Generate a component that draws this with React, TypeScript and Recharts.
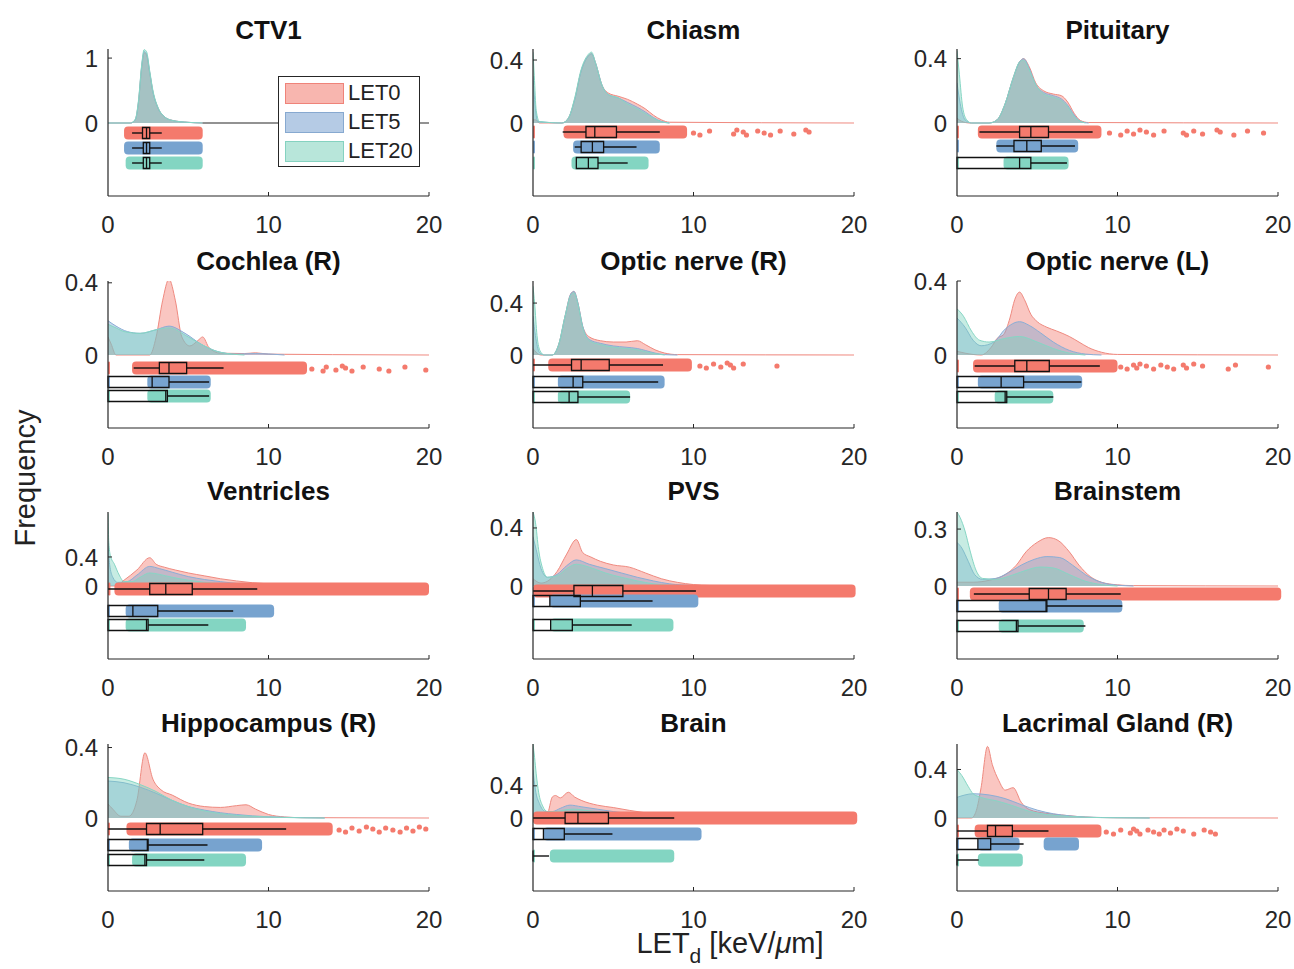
import React from "react";
import { ComposedChart, Area, XAxis, YAxis, ReferenceArea, ReferenceLine, ReferenceDot } from "recharts";

type Pt = [number, number];
type Box = [number, number, number, number, number]; // whisker lo, q1, median, q3, whisker hi

const TITLES = [
  "CTV1", "Chiasm", "Pituitary",
  "Cochlea (R)", "Optic nerve (R)", "Optic nerve (L)",
  "Ventricles", "PVS", "Brainstem",
  "Hippocampus (R)", "Brain", "Lacrimal Gland (R)",
];
const TOP_TICK = [1, 0.4, 0.4, 0.4, 0.4, 0.4, 0.4, 0.4, 0.3, 0.4, 0.4, 0.4];
const Y_MAX = [1.14, 0.47, 0.46, 0.41, 0.57, 0.4, 1.02, 0.51, 0.39, 0.42, 0.92, 0.61];
const X_TICKS = [0, 10, 20];

// density curves [LET0, LET5, LET20] as [LETd, frequency]
const D_CTV1: Pt[][] = [
  [[0, 0], [1.4, 0], [1.7, 0.05], [1.9, 0.32], [2.1, 0.86], [2.25, 1.08], [2.4, 1.05], [2.6, 0.77], [2.8, 0.48], [3.1, 0.24], [3.5, 0.1], [4, 0.04], [5, 0.01], [5.9, 0]],
  [[0, 0], [1.4, 0], [1.7, 0.05], [1.9, 0.33], [2.1, 0.88], [2.25, 1.1], [2.4, 1.07], [2.6, 0.78], [2.8, 0.48], [3.1, 0.24], [3.5, 0.1], [4, 0.04], [5, 0.01], [5.9, 0]],
  [[0, 0], [1.4, 0], [1.7, 0.06], [1.9, 0.35], [2.1, 0.9], [2.25, 1.13], [2.4, 1.1], [2.6, 0.8], [2.8, 0.5], [3.1, 0.25], [3.5, 0.1], [4, 0.04], [5, 0.01], [5.9, 0]],
];
const D_CHIASM: Pt[][] = [
  [[0, 0.02], [0.15, 0.02], [0.4, 0], [1.8, 0], [2.2, 0.03], [2.6, 0.15], [3, 0.33], [3.4, 0.42], [3.65, 0.44], [3.9, 0.38], [4.3, 0.24], [4.7, 0.19], [5.3, 0.17], [5.9, 0.15], [6.5, 0.12], [7, 0.09], [7.5, 0.05], [8, 0.02], [8.5, 0.005], [20, 0]],
  [[0, 0.3], [0.1, 0.15], [0.3, 0.01], [1.8, 0], [2.2, 0.03], [2.6, 0.15], [3, 0.33], [3.4, 0.42], [3.65, 0.44], [3.9, 0.38], [4.3, 0.24], [4.7, 0.18], [5.3, 0.16], [5.9, 0.13], [6.5, 0.1], [7, 0.07], [7.5, 0.035], [8, 0.01], [8.5, 0]],
  [[0, 0.45], [0.08, 0.3], [0.2, 0.08], [0.4, 0.01], [1.8, 0], [2.2, 0.03], [2.6, 0.16], [3, 0.34], [3.4, 0.43], [3.65, 0.45], [3.9, 0.38], [4.3, 0.24], [4.7, 0.18], [5.3, 0.16], [5.9, 0.12], [6.5, 0.09], [7, 0.06], [7.5, 0.03], [8, 0.008], [8.5, 0]],
];
const D_PITUITARY: Pt[][] = [
  [[0, 0.03], [0.3, 0.01], [0.8, 0], [2, 0], [2.5, 0.02], [3, 0.12], [3.5, 0.28], [3.9, 0.38], [4.15, 0.4], [4.5, 0.35], [4.9, 0.25], [5.4, 0.2], [6, 0.18], [6.5, 0.17], [6.9, 0.13], [7.3, 0.06], [7.7, 0.015], [8.2, 0.003], [20, 0]],
  [[0, 0.25], [0.2, 0.12], [0.5, 0.02], [0.9, 0], [2, 0], [2.5, 0.02], [3, 0.12], [3.5, 0.28], [3.9, 0.38], [4.15, 0.4], [4.5, 0.34], [4.9, 0.24], [5.4, 0.19], [6, 0.17], [6.5, 0.15], [6.9, 0.11], [7.3, 0.05], [7.7, 0.01], [8.2, 0]],
  [[0, 0.45], [0.15, 0.3], [0.35, 0.1], [0.6, 0.02], [0.9, 0], [2, 0], [2.5, 0.02], [3, 0.12], [3.5, 0.28], [3.9, 0.38], [4.15, 0.39], [4.5, 0.33], [4.9, 0.24], [5.4, 0.18], [6, 0.16], [6.5, 0.14], [6.9, 0.1], [7.3, 0.04], [7.7, 0.01], [8, 0]],
];
const D_COCHLEA: Pt[][] = [
  [[0, 0.1], [0.2, 0.06], [0.5, 0], [2.6, 0], [3, 0.1], [3.4, 0.3], [3.8, 0.42], [4.2, 0.3], [4.6, 0.1], [5.1, 0.05], [5.6, 0.08], [5.9, 0.1], [6.3, 0.04], [7, 0.01], [8.5, 0.008], [9.2, 0.012], [10, 0.005], [11, 0.004], [14, 0.002], [20, 0]],
  [[0, 0.19], [0.5, 0.16], [1.2, 0.13], [2, 0.12], [3, 0.14], [3.8, 0.16], [4.8, 0.12], [5.8, 0.06], [6.8, 0.02], [8, 0.005], [9.2, 0.008], [11, 0]],
  [[0, 0.17], [0.5, 0.15], [1, 0.13], [2, 0.12], [3, 0.14], [3.8, 0.15], [5, 0.1], [6, 0.05], [7, 0.015], [8.5, 0]],
];
const D_OPTIC_R: Pt[][] = [
  [[0, 0.05], [0.2, 0.02], [0.5, 0], [1.2, 0], [1.6, 0.08], [2, 0.3], [2.35, 0.47], [2.55, 0.49], [2.8, 0.4], [3.1, 0.22], [3.5, 0.14], [4.2, 0.11], [5, 0.1], [5.8, 0.1], [6.5, 0.11], [7, 0.08], [7.6, 0.04], [8.2, 0.015], [9, 0.003], [20, 0]],
  [[0, 0.3], [0.15, 0.15], [0.4, 0.02], [0.7, 0], [1.2, 0], [1.6, 0.08], [2, 0.3], [2.35, 0.47], [2.55, 0.49], [2.8, 0.4], [3.1, 0.22], [3.5, 0.12], [4.2, 0.09], [5, 0.07], [5.8, 0.06], [6.5, 0.05], [7, 0.035], [7.6, 0.015], [8.2, 0.003], [9, 0]],
  [[0, 0.53], [0.1, 0.4], [0.25, 0.15], [0.45, 0.03], [0.7, 0], [1.2, 0], [1.6, 0.08], [2, 0.3], [2.35, 0.46], [2.55, 0.48], [2.8, 0.39], [3.1, 0.21], [3.5, 0.11], [4.2, 0.08], [5, 0.06], [5.8, 0.05], [6.5, 0.04], [7, 0.025], [7.6, 0.01], [8.2, 0]],
];
const D_OPTIC_L: Pt[][] = [
  [[0, 0.02], [0.5, 0.01], [1.5, 0], [2.2, 0.05], [2.5, 0.09], [2.9, 0.11], [3.3, 0.2], [3.6, 0.3], [3.9, 0.34], [4.2, 0.3], [4.6, 0.22], [5, 0.18], [5.6, 0.15], [6.2, 0.13], [7, 0.1], [7.6, 0.07], [8.2, 0.04], [9, 0.015], [10, 0.003], [20, 0]],
  [[0, 0.2], [0.5, 0.15], [1, 0.08], [1.5, 0.05], [2.3, 0.07], [3, 0.14], [3.9, 0.18], [4.5, 0.16], [5.2, 0.12], [6, 0.07], [7, 0.025], [8, 0.005], [9, 0]],
  [[0, 0.25], [0.4, 0.21], [0.9, 0.13], [1.4, 0.08], [2, 0.07], [3, 0.09], [3.9, 0.1], [5, 0.07], [6, 0.035], [7, 0.01], [8, 0]],
];
const D_VENTRICLES: Pt[][] = [
  [[0, 0], [0.5, 0], [1, 0.08], [1.8, 0.22], [2.6, 0.39], [3, 0.3], [3.5, 0.26], [4.2, 0.22], [5, 0.18], [6, 0.14], [7, 0.1], [8, 0.07], [9, 0.045], [10, 0.03], [11, 0.015], [13, 0.005], [20, 0]],
  [[0, 0.6], [0.1, 0.3], [0.3, 0.12], [0.6, 0.05], [1.2, 0.06], [1.8, 0.15], [2.6, 0.27], [3.2, 0.24], [4, 0.19], [5, 0.13], [6, 0.09], [7, 0.06], [8, 0.035], [9, 0.02], [10, 0.01], [11, 0]],
  [[0, 1.0], [0.05, 0.6], [0.15, 0.42], [0.4, 0.3], [0.7, 0.15], [1, 0.06], [1.5, 0.06], [2, 0.12], [2.6, 0.18], [3.2, 0.16], [4, 0.12], [5, 0.08], [6, 0.05], [7, 0.03], [8, 0.015], [9, 0.005], [10, 0]],
];
const D_PVS: Pt[][] = [
  [[0, 0.05], [0.5, 0.02], [1, 0.04], [1.5, 0.1], [2.1, 0.22], [2.7, 0.32], [3.1, 0.23], [3.6, 0.2], [4.2, 0.17], [5, 0.145], [6, 0.13], [7, 0.09], [8, 0.05], [9, 0.025], [10, 0.01], [11, 0.004], [20, 0]],
  [[0, 0.34], [0.2, 0.25], [0.5, 0.12], [0.9, 0.06], [1.5, 0.08], [2.1, 0.14], [2.7, 0.18], [3.5, 0.15], [4.5, 0.12], [5.5, 0.09], [6.5, 0.06], [7.5, 0.035], [8.5, 0.015], [10, 0.003], [11, 0]],
  [[0, 0.51], [0.15, 0.44], [0.35, 0.25], [0.6, 0.12], [0.9, 0.06], [1.5, 0.07], [2.1, 0.12], [2.7, 0.15], [3.5, 0.13], [4.5, 0.09], [5.5, 0.06], [6.5, 0.035], [7.5, 0.015], [8.5, 0.005], [9.5, 0]],
];
const D_BRAINSTEM: Pt[][] = [
  [[0, 0.02], [1, 0.02], [2, 0.03], [3, 0.06], [3.7, 0.11], [4.3, 0.18], [5, 0.23], [5.7, 0.255], [6.3, 0.24], [7, 0.18], [7.6, 0.11], [8.3, 0.05], [9, 0.02], [10, 0.006], [11, 0.002], [20, 0]],
  [[0, 0.23], [0.3, 0.2], [0.7, 0.13], [1.1, 0.06], [1.6, 0.035], [2.4, 0.04], [3.2, 0.07], [4, 0.11], [4.8, 0.14], [5.6, 0.155], [6.4, 0.15], [7.2, 0.11], [8, 0.06], [8.8, 0.025], [9.6, 0.008], [11, 0]],
  [[0, 0.39], [0.2, 0.36], [0.5, 0.29], [0.8, 0.19], [1.2, 0.08], [1.6, 0.04], [2.4, 0.035], [3.2, 0.05], [4.2, 0.08], [5.2, 0.1], [6, 0.095], [7, 0.06], [8, 0.025], [9, 0.007], [10, 0]],
];
const D_HIPPOCAMPUS: Pt[][] = [
  [[0, 0.08], [0.3, 0.05], [0.8, 0.01], [1.3, 0.01], [1.8, 0.1], [2.3, 0.37], [2.8, 0.22], [3.3, 0.16], [4, 0.13], [5, 0.085], [6, 0.065], [7, 0.06], [8, 0.07], [8.6, 0.075], [9.2, 0.05], [10, 0.02], [11, 0.006], [12, 0.002], [20, 0]],
  [[0, 0.21], [1, 0.2], [2, 0.175], [3, 0.14], [4, 0.1], [5, 0.065], [6, 0.045], [7, 0.03], [8, 0.02], [9, 0.012], [11, 0.004], [13.5, 0]],
  [[0, 0.23], [1, 0.22], [2, 0.19], [3, 0.15], [4, 0.1], [5, 0.065], [6, 0.04], [7, 0.025], [8, 0.015], [9, 0.01], [11, 0.003], [13.5, 0]],
];
const D_BRAIN: Pt[][] = [
  [[0, 0.05], [0.5, 0.04], [0.9, 0.06], [1.2, 0.26], [1.4, 0.28], [1.7, 0.25], [2.2, 0.32], [2.6, 0.26], [3, 0.22], [4, 0.16], [5, 0.13], [6, 0.095], [7, 0.065], [8, 0.035], [9, 0.02], [10, 0.01], [12, 0.003], [20, 0]],
  [[0, 0.6], [0.15, 0.35], [0.4, 0.18], [0.8, 0.08], [1.2, 0.08], [1.7, 0.12], [2.3, 0.16], [3, 0.14], [4, 0.11], [5, 0.08], [6, 0.055], [7, 0.035], [8, 0.02], [9, 0.01], [11, 0]],
  [[0, 0.92], [0.1, 0.75], [0.2, 0.55], [0.35, 0.32], [0.6, 0.15], [0.9, 0.08], [1.4, 0.08], [2, 0.1], [2.5, 0.11], [3.5, 0.09], [4.5, 0.065], [5.5, 0.04], [7, 0.02], [8.5, 0.006], [10, 0]],
];
const D_LACRIMAL: Pt[][] = [
  [[0, 0], [0.9, 0], [1.2, 0.06], [1.5, 0.25], [1.9, 0.59], [2.2, 0.44], [2.6, 0.31], [3, 0.23], [3.5, 0.25], [4, 0.13], [4.5, 0.07], [5.5, 0.04], [6.5, 0.025], [7.5, 0.012], [8.5, 0.005], [10, 0.002], [20, 0]],
  [[0, 0.17], [0.5, 0.19], [1, 0.2], [2, 0.19], [3, 0.16], [4, 0.11], [5, 0.065], [6, 0.035], [7, 0.018], [8, 0.008], [9.5, 0.003], [12, 0]],
  [[0, 0.4], [0.3, 0.35], [0.7, 0.26], [1, 0.2], [1.5, 0.17], [2.5, 0.14], [3.5, 0.1], [4.5, 0.055], [5.5, 0.03], [7, 0.013], [9, 0.003], [12, 0]],
];
const DENSITY = [D_CTV1, D_CHIASM, D_PITUITARY, D_COCHLEA, D_OPTIC_R, D_OPTIC_L, D_VENTRICLES, D_PVS, D_BRAINSTEM, D_HIPPOCAMPUS, D_BRAIN, D_LACRIMAL];

// extent of the raw points (rain), as [from, to] runs
const RAIN_LET0: Pt[][] = [
  [[1.0, 5.9]], [[0, 0.12], [1.9, 9.6]], [[0, 0.12], [1.3, 9.0]],
  [[0, 0.12], [1.5, 12.4]], [[0, 0.12], [0.95, 9.9]], [[0, 0.12], [1.0, 10.0]],
  [[0, 0.15], [0.4, 20]], [[0, 20.1]], [[0, 0.12], [0.8, 20.2]],
  [[0, 0.12], [1.15, 14.0]], [[0, 20.2]], [[0, 0.12], [1.1, 9.0]],
];
const RAIN_LET5: Pt[][] = [
  [[1.0, 5.9]], [[0, 0.12], [2.5, 7.9]], [[0, 0.12], [2.45, 7.55]],
  [[0, 0.12], [2.45, 6.4]], [[0, 0.12], [1.55, 8.2]], [[0, 0.12], [1.3, 7.8]],
  [[0, 0.12], [1.1, 10.35]], [[0, 0.12], [1.05, 10.3]], [[0, 0.12], [2.6, 10.3]],
  [[0, 0.12], [1.3, 9.6]], [[0, 0.12], [0.65, 10.5]], [[0, 0.12], [1.3, 3.9], [5.4, 7.6]],
];
const RAIN_LET20: Pt[][] = [
  [[1.1, 5.9]], [[0, 0.12], [2.4, 7.2]], [[0, 0.12], [2.9, 6.95]],
  [[0, 0.12], [2.45, 6.4]], [[0, 0.12], [1.55, 6.05]], [[0, 0.12], [2.35, 6.0]],
  [[0, 0.12], [1.1, 8.6]], [[0, 0.12], [1.1, 8.75]], [[0, 0.12], [2.6, 7.9]],
  [[0, 0.12], [1.5, 8.6]], [[0, 0.12], [1.05, 8.8]], [[0, 0.12], [1.3, 4.1]],
];

// isolated LET0 points beyond the dense rain
const OUT_LET0: number[][] = [
  [],
  [10.0, 10.4, 11.0, 12.5, 12.7, 13.1, 13.3, 14.0, 14.4, 14.8, 15.4, 16.25, 17.0, 17.2],
  [9.5, 10.2, 10.6, 11.0, 11.4, 11.8, 12.25, 12.9, 14.1, 14.3, 14.75, 15.3, 16.2, 16.4, 17.25, 18.1, 19.1],
  [12.7, 13.4, 13.6, 14.2, 14.6, 14.8, 15.2, 15.9, 16.9, 17.5, 18.5, 19.8],
  [10.4, 10.8, 11.25, 11.7, 12.1, 12.3, 12.5, 13.1, 15.2],
  [10.2, 10.6, 11.0, 11.2, 11.4, 11.8, 12.25, 12.7, 13.1, 13.5, 14.1, 14.3, 14.75, 15.3, 16.9, 17.35, 19.4],
  [], [], [],
  [14.4, 14.8, 15.2, 15.65, 16.1, 16.5, 16.9, 17.3, 17.75, 18.2, 18.6, 19.0, 19.4, 19.8],
  [],
  [9.3, 9.75, 10.2, 10.8, 11.0, 11.2, 11.4, 11.9, 12.25, 12.6, 12.9, 13.3, 13.7, 14.1, 14.75, 15.4, 15.8, 16.1],
];

const BOX_LET0: Box[] = [
  [1.5, 2.15, 2.4, 2.6, 3.35], [1.85, 3.3, 3.85, 5.2, 7.9], [1.4, 3.9, 4.6, 5.7, 8.45],
  [1.6, 3.2, 3.8, 4.9, 7.2], [0, 2.4, 3.0, 4.75, 8.1], [1.1, 3.6, 4.35, 5.75, 8.9],
  [0, 2.6, 3.6, 5.25, 9.3], [0, 2.55, 3.7, 5.6, 10.15], [1.05, 4.5, 5.7, 6.8, 10.2],
  [0, 2.4, 3.25, 5.9, 11.1], [0, 2.0, 2.8, 4.7, 8.8], [0, 1.9, 2.4, 3.45, 5.7],
];
const BOX_LET5: Box[] = [
  [1.5, 2.2, 2.4, 2.6, 3.35], [2.6, 3.0, 3.7, 4.4, 6.45], [2.45, 3.55, 4.35, 5.25, 7.35],
  [0, 0, 2.75, 3.8, 6.3], [0, 0, 2.5, 3.1, 7.8], [0, 0, 2.75, 4.15, 7.75],
  [0, 0, 1.55, 3.1, 7.8], [0, 0, 1.05, 2.95, 7.45], [0, 0, 5.55, 5.6, 10.3],
  [0, 0, 2.45, 2.5, 6.2], [0, 0, 0.65, 1.95, 4.95], [0, 0, 1.3, 2.1, 4.15],
];
const BOX_LET20: Box[] = [
  [1.5, 2.2, 2.4, 2.6, 3.35], [2.7, 2.7, 3.45, 4.05, 5.9], [0, 0, 3.9, 4.6, 6.85],
  [0, 0, 3.6, 3.7, 6.3], [0, 0, 2.25, 2.8, 6.05], [0, 0, 3.0, 3.1, 6.0],
  [0, 0, 2.4, 2.5, 6.25], [0, 0, 1.1, 2.45, 6.15], [0, 0, 3.7, 3.8, 8.0],
  [0, 0, 2.3, 2.4, 6.0], [0, 0, 0, 0, 1.0], [0, 0, 0, 0, 1.35],
];

// layout: pixel offset of each rain row below the zero line
const RAIN_ROW_PX = [
  [10, 25, 40], [9, 24, 40], [9, 23, 40],
  [13, 27, 41], [10, 27, 42], [11, 27, 42],
  [3, 25, 39], [5, 15, 39], [8, 20, 40],
  [11, 27, 42], [0, 16, 38], [13, 26, 42],
];

const SERIES = [
  { key: "l0", name: "LET0", rain: "#f47a6d", fill: "#f2786b", stroke: "#ef8a80", swatch: "#f8b6af", swBorder: "#ef8379" },
  { key: "l5", name: "LET5", rain: "#77a3cf", fill: "#7aa3d2", stroke: "#8aaed6", swatch: "#b5cbe5", swBorder: "#87a9d0" },
  { key: "l20", name: "LET20", rain: "#83d5c2", fill: "#79d2bd", stroke: "#86d6c4", swatch: "#b8e6da", swBorder: "#85d2c0" },
];

const FONT = "'Liberation Sans', Arial, Helvetica, sans-serif";
const AXIS = "#262626";
const COL_LEFT = [108, 533, 957];
const ROW_TOP = [49, 281, 512, 744];
const TITLE_Y = [30, 261, 491, 723];
const PLOT_W = 321;
const PLOT_H = 147;
const ZERO_PX = 74;
const Y_AXIS_W = 60;
const TOP_PAD = 16;
const RIGHT_PAD = 20;
const X_AXIS_H = 45;
const BAND_PX = 13;
const BOX_PX = 11;
const JITTER_PX = [1, 3, -1, 2, -2, 0, 3, -1];
const TICK_FONT = 24;

function buildRows(dens: Pt[][]) {
  const map = new Map<number, any>();
  dens.forEach((pts, k) => {
    pts.forEach(([x, y]) => {
      const row = map.get(x) ?? { x };
      row[SERIES[k].key] = y;
      map.set(x, row);
    });
  });
  return Array.from(map.values()).sort((a, b) => a.x - b.x);
}

function Panel({ i }: { i: number }) {
  const col = i % 3;
  const row = Math.floor(i / 3);
  const yMax = Y_MAX[i];
  const u = yMax / ZERO_PX; // data units per pixel
  const yMin = -(PLOT_H - ZERO_PX) * u;
  const rows = buildRows(DENSITY[i]);
  const rains = [RAIN_LET0[i], RAIN_LET5[i], RAIN_LET20[i]];
  const boxes = [BOX_LET0[i], BOX_LET5[i], BOX_LET20[i]];
  const centers = RAIN_ROW_PX[i].map((p) => -p * u);

  return (
    <div style={{ position: "absolute", left: COL_LEFT[col] - Y_AXIS_W, top: ROW_TOP[row] - TOP_PAD }}>
      <ComposedChart
        width={Y_AXIS_W + PLOT_W + RIGHT_PAD}
        height={TOP_PAD + PLOT_H + X_AXIS_H}
        data={rows}
        margin={{ top: TOP_PAD, right: RIGHT_PAD, bottom: 0, left: 0 }}
      >
        <XAxis
          dataKey="x"
          type="number"
          domain={[0, 20]}
          ticks={X_TICKS}
          interval={0}
          allowDataOverflow
          height={X_AXIS_H}
          tickLine={false}
          tickSize={6}
          tickMargin={14}
          axisLine={{ stroke: AXIS, strokeWidth: 1.2 }}
          tick={{ fill: AXIS, fontSize: TICK_FONT, fontFamily: FONT }}
        />
        <YAxis
          type="number"
          domain={[yMin, yMax]}
          ticks={[0, TOP_TICK[i]]}
          interval={0}
          allowDataOverflow
          width={Y_AXIS_W}
          tickLine={false}
          tickSize={6}
          tickMargin={4}
          axisLine={{ stroke: AXIS, strokeWidth: 1.2 }}
          tick={{ fill: AXIS, fontSize: TICK_FONT, fontFamily: FONT }}
        />
        {SERIES.map((s) => (
          <Area
            key={s.key}
            dataKey={s.key}
            type="monotone"
            connectNulls
            baseValue={0}
            fill={s.fill}
            fillOpacity={0.42}
            stroke={s.stroke}
            strokeWidth={1}
            dot={false}
            activeDot={false}
            isAnimationActive={false}
          />
        ))}
        {i === 0 && (
          <ReferenceLine segment={[{ x: 5.9, y: 0 }, { x: 20, y: 0 }]} stroke={AXIS} strokeWidth={1.2} ifOverflow="visible" />
        )}
        {rains.map((runs, k) =>
          runs.map(([a, b], j) => (
            <ReferenceArea
              key={`r${k}-${j}`}
              x1={a}
              x2={b}
              y1={centers[k] - (BAND_PX / 2) * u}
              y2={centers[k] + (BAND_PX / 2) * u}
              fill={SERIES[k].rain}
              fillOpacity={1}
              stroke="none"
              radius={4}
              ifOverflow="visible"
            />
          ))
        )}
        {OUT_LET0[i].map((x, j) => (
          <ReferenceDot
            key={`o${j}`}
            x={x}
            y={centers[0] - JITTER_PX[j % JITTER_PX.length] * u}
            r={2.6}
            fill={SERIES[0].rain}
            stroke="none"
            ifOverflow="visible"
          />
        ))}
        {boxes.map(([lo, q1, med, q3, hi], k) => {
          const c = centers[k];
          const h = (BOX_PX / 2) * u;
          return (
            <React.Fragment key={`b${k}`}>
              {lo < q1 && (
                <ReferenceLine segment={[{ x: lo, y: c }, { x: q1, y: c }]} stroke="#111" strokeWidth={1.4} ifOverflow="visible" />
              )}
              {hi > q3 && (
                <ReferenceLine segment={[{ x: q3, y: c }, { x: hi, y: c }]} stroke="#111" strokeWidth={1.4} ifOverflow="visible" />
              )}
              <ReferenceArea x1={q1} x2={q3} y1={c - h} y2={c + h} fill="none" stroke="#111" strokeWidth={1.3} ifOverflow="visible" />
              <ReferenceLine segment={[{ x: med, y: c - h }, { x: med, y: c + h }]} stroke="#111" strokeWidth={1.3} ifOverflow="visible" />
            </React.Fragment>
          );
        })}
        {X_TICKS.slice(1).map((t) => (
          <ReferenceLine key={`xt${t}`} segment={[{ x: t, y: yMin }, { x: t, y: yMin + 4 * u }]} stroke={AXIS} ifOverflow="visible" />
        ))}
        <ReferenceLine segment={[{ x: 0, y: TOP_TICK[i] }, { x: 0.25, y: TOP_TICK[i] }]} stroke={AXIS} ifOverflow="visible" />
      </ComposedChart>
      <div
        style={{
          position: "absolute",
          left: Y_AXIS_W - 40,
          width: PLOT_W + 80,
          top: TITLE_Y[row] - (ROW_TOP[row] - TOP_PAD) - 15,
          textAlign: "center",
          fontFamily: FONT,
          fontWeight: "bold",
          fontSize: 26,
          lineHeight: "30px",
          color: "#111",
          whiteSpace: "nowrap",
        }}
      >
        {TITLES[i]}
      </div>
    </div>
  );
}

function LegendBox() {
  return (
    <div
      style={{
        position: "absolute",
        left: 278,
        top: 76,
        width: 142,
        height: 91,
        border: `1px solid ${AXIS}`,
        background: "#fff",
        fontFamily: FONT,
        fontSize: 22,
        color: "#222",
        boxSizing: "border-box",
      }}
    >
      {SERIES.map((s, k) => (
        <div key={s.key} style={{ position: "absolute", left: 6, top: 5 + k * 29, height: 22, display: "flex", alignItems: "center" }}>
          <div style={{ width: 59, height: 21, background: s.swatch, border: `1px solid ${s.swBorder}`, boxSizing: "border-box" }} />
          <span style={{ marginLeft: 4 }}>{s.name}</span>
        </div>
      ))}
    </div>
  );
}

export default function App() {
  return (
    <div style={{ position: "absolute", left: 0, top: 0, width: 1294, height: 969, background: "#fff", overflow: "hidden" }}>
      {TITLES.map((_, i) => (
        <Panel key={i} i={i} />
      ))}
      <LegendBox />
      <div
        style={{
          position: "absolute",
          left: 25 - 90,
          top: 478 - 17,
          width: 180,
          height: 34,
          lineHeight: "34px",
          textAlign: "center",
          transform: "rotate(-90deg)",
          fontFamily: FONT,
          fontSize: 29,
          color: "#222",
        }}
      >
        Frequency
      </div>
      <div
        style={{
          position: "absolute",
          left: 730 - 160,
          width: 320,
          top: 927,
          textAlign: "center",
          fontFamily: FONT,
          fontSize: 29,
          color: "#222",
          whiteSpace: "nowrap",
        }}
      >
        LET<sub style={{ fontSize: 21, verticalAlign: "-10px" }}>d</sub> [keV/<i>μ</i>m]
      </div>
    </div>
  );
}
